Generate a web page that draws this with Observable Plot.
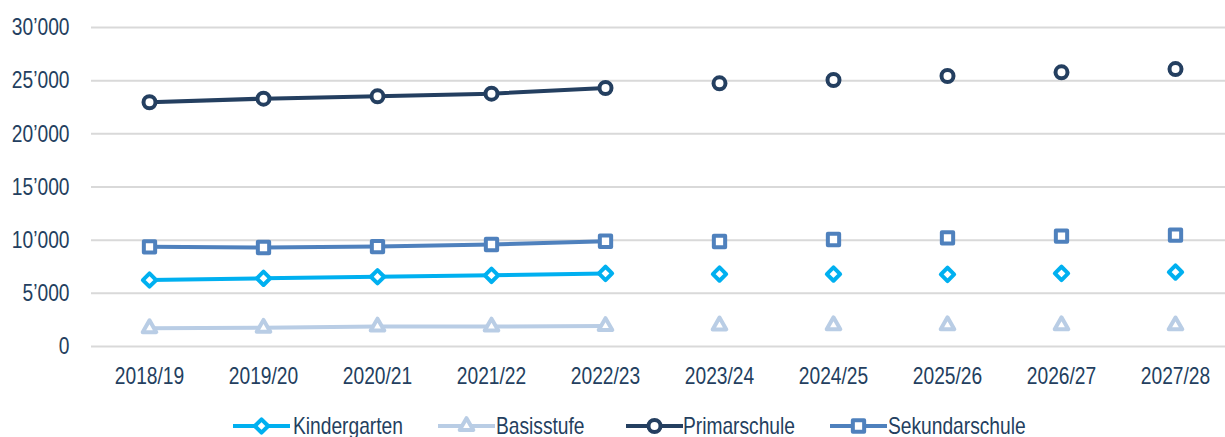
<!DOCTYPE html>
<html><head><meta charset="utf-8">
<script src="https://cdn.jsdelivr.net/npm/d3@7"></script>
<script src="https://cdn.jsdelivr.net/npm/@observablehq/plot@0.6"></script>
<style>
body{margin:0;background:#fff;font-family:"Liberation Sans",Arial,sans-serif;}
#chart svg, #legend svg{display:block;}
</style></head><body>
<div id="chart"></div><div id="legend"></div>
<script>
const years = ["2018/19","2019/20","2020/21","2021/22","2022/23","2023/24","2024/25","2025/26","2026/27","2027/28"];
const kindergarten   = [6250, 6410, 6560, 6690, 6875, 6810, 6810, 6780, 6875, 7000];
const basisstufe     = [1720, 1760, 1880, 1880, 1920, 1980, 2000, 2000, 2000, 1990];
const primarschule   = [22970, 23310, 23530, 23780, 24310, 24750, 25060, 25440, 25780, 26090];
const sekundarschule = [9375, 9310, 9400, 9590, 9900, 9875, 10060, 10220, 10375, 10470];
const observedCount = 5; // years with connecting line (actual values)
const yTicks = [0, 5000, 10000, 15000, 20000, 25000, 30000];
const seriesNames = ["Kindergarten","Basisstufe","Primarschule","Sekundarschule"];

const seriesDefs = [
  {name:seriesNames[0], values:kindergarten,   color:"#00B0F0", symbol:"diamond2",  r:6},
  {name:seriesNames[1], values:basisstufe,     color:"#B9CDE5", symbol:"triangle2", r:6.5},
  {name:seriesNames[2], values:primarschule,   color:"#243F60", symbol:"circle",    r:6},
  {name:seriesNames[3], values:sekundarschule, color:"#4F81BD", symbol:"square2",   r:7.2}
];
const symbolMap = {circle:d3.symbolCircle, diamond2:d3.symbolDiamond2, triangle2:d3.symbolTriangle2, square2:d3.symbolSquare2};
const drawOrder = ["Basisstufe","Kindergarten","Sekundarschule","Primarschule"];
const TEXT = "#243F60";
const SQUEEZE = 0.8;

const rows = [];
for (const s of seriesDefs) s.values.forEach((v,i)=>rows.push({series:s.name, year:years[i], value:v, observed:i<observedCount}));

const fmt = d => d3.format(",")(d).replace(/,/g, "\u2019");

const marks = [Plot.ruleY(yTicks, {stroke:"#D9D9D9", strokeWidth:2})];
for (const name of drawOrder) {
  const s = seriesDefs.find(d=>d.name===name);
  const data = rows.filter(d=>d.series===name);
  marks.push(Plot.line(data.filter(d=>d.observed), {x:"year", y:"value", stroke:s.color, strokeWidth:4}));
  marks.push(Plot.dot(data, {x:"year", y:"value", symbol:()=>s.symbol, r:s.r, stroke:s.color, strokeWidth:4, fill:"white", strokeLinejoin:"round"}));
}

const chart = Plot.plot({
  width:1225, height:400,
  marginLeft:91, marginRight:0, marginTop:27, marginBottom:54,
  style:{fontFamily:'"Liberation Sans",Arial,sans-serif', fontSize:"24px", color:TEXT, background:"white"},
  x:{type:"point", domain:years, range:[148,1176.5], padding:0, label:null, tickSize:0, tickPadding:20},
  y:{domain:[0,30000], ticks:yTicks, tickFormat:fmt, label:null, tickSize:0, tickPadding:22},
  symbol:{type:"identity"},
  marks
});
// condense tick labels horizontally (narrow typeface look)
chart.querySelectorAll('g[aria-label$="tick label"] text').forEach(t=>{
  const tr = t.getAttribute("transform") || "";
  t.setAttribute("transform", tr + ` scale(${SQUEEZE},1)`);
});
document.getElementById("chart").appendChild(chart);

// legend
const legendPos = [{sw:233, tx:293},{sw:438, tx:496},{sw:626, tx:683},{sw:830, tx:888}];
const lg = d3.select("#legend").append("svg").attr("width",1225).attr("height",37);
seriesDefs.forEach((s,i)=>{
  const p = legendPos[i];
  const g = lg.append("g");
  g.append("line").attr("x1",p.sw).attr("x2",p.sw+57).attr("y1",26).attr("y2",26)
    .attr("stroke",s.color).attr("stroke-width",4);
  const sym = d3.symbol(symbolMap[s.symbol], Math.PI*s.r*s.r);
  g.append("path").attr("d",sym()).attr("transform",`translate(${p.sw+28.5},26)`)
    .attr("fill","white").attr("stroke",s.color).attr("stroke-width",4).attr("stroke-linejoin","round");
  g.append("text").attr("transform",`translate(${p.tx},33.5) scale(${SQUEEZE},1)`)
    .attr("font-family",'"Liberation Sans",Arial,sans-serif').attr("font-size",24).attr("fill",TEXT)
    .text(s.name);
});
</script>
</body></html>
